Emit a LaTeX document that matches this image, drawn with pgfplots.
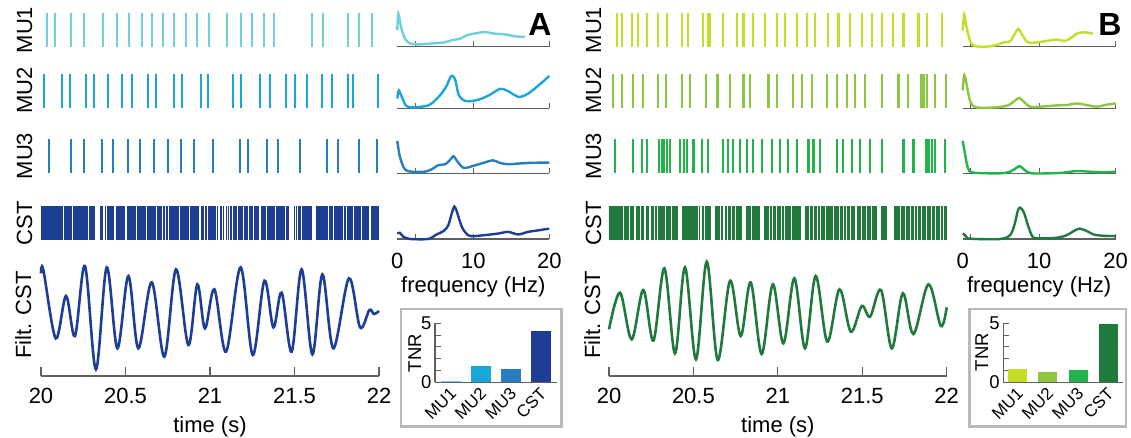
\documentclass[border=0pt]{standalone}
\usepackage{fontspec}
\setmainfont{Liberation Sans}
\setsansfont{Liberation Sans}
\usepackage{pgfplots}
\pgfplotsset{compat=1.18}
\definecolor{A1}{RGB}{112,206,221}
\definecolor{A2}{RGB}{27,166,218}
\definecolor{A3}{RGB}{40,125,190}
\definecolor{A4}{RGB}{30,62,150}
\definecolor{B1}{RGB}{196,221,40}
\definecolor{B2}{RGB}{141,198,63}
\definecolor{B3}{RGB}{34,180,75}
\definecolor{B4}{RGB}{32,122,60}
\definecolor{axg}{RGB}{95,95,95}
\definecolor{boxg}{RGB}{185,185,185}
\newcommand\fs{\fontsize{22}{26}\selectfont}
\newcommand\fsi{\fontsize{18.5}{22}\selectfont}
\newcommand\fsl{\fontsize{17}{20}\selectfont}
\pgfplotsset{
  /pgf/number format/assume math mode=true,
  spk/.style={scale only axis, hide axis, height=34pt, xmin=20, xmax=22, ymin=0, ymax=1, anchor=south west, clip=false},
  spec/.style={scale only axis, height=34pt, xmin=0, xmax=20, ymin=0, ymax=105,
    axis x line=bottom, axis y line=none, ytick=\empty, xticklabels={},
    tick align=inside, major tick length=5.5pt,
    axis line style={-, draw=axg, line width=1.1pt}, tick style={axg, line width=1.1pt},
    anchor=south west, clip=false},
  filt/.style={scale only axis, height=114pt, xmin=20, xmax=22, ymin=-0.18, ymax=3.24,
    axis x line=bottom, axis y line=none,
    axis line style={-, draw=axg, line width=1.2pt}, tick style={axg, line width=1.2pt},
    xtick={20,20.5,21,21.5,22}, xticklabels={},
    tick align=inside, major tick length=9pt,
    anchor=south west, clip=false},
  tnr/.style={scale only axis, height=59pt, ymin=0, ymax=5, anchor=south west,
    axis x line=bottom, axis y line=left,
    axis line style={-, draw=axg, line width=1.1pt}, tick style={axg, line width=1.1pt},
    ybar, bar shift=0pt,
    ytick={0,5}, minor ytick={1,2,3,4}, tick align=inside,
    major tick length=6pt, minor tick length=6pt,
    yticklabel style={font=\fsi}},
}
\begin{document}
\begin{tikzpicture}[x=1pt,y=1pt]
\useasboundingbox (0,0) rectangle (1131,-437);

% ================= PANEL A =================
\begin{axis}[spk, width=338pt, at={(41pt,-47pt)}]
\addplot[ycomb, color=A1, line width=2.2pt] coordinates {
(20.034,1)(20.083,1)(20.176,1)(20.254,1)(20.365,1)(20.451,1)(20.521,1)(20.596,1)(20.655,1)(20.724,1)(20.787,1)(20.858,1)(20.921,1)(20.996,1)(21.099,1)(21.182,1)(21.247,1)(21.321,1)(21.380,1)(21.605,1)(21.670,1)(21.815,1)(21.883,1)(21.960,1)};
\end{axis}
\begin{axis}[spk, width=338pt, at={(41pt,-108pt)}]
\addplot[ycomb, color=A2, line width=2.2pt] coordinates {
(20.018,1)(20.122,1)(20.172,1)(20.264,1)(20.314,1)(20.398,1)(20.479,1)(20.537,1)(20.631,1)(20.680,1)(20.787,1)(20.833,1)(20.945,1)(20.990,1)(21.138,1)(21.182,1)(21.296,1)(21.355,1)(21.450,1)(21.503,1)(21.572,1)(21.664,1)(21.720,1)(21.815,1)(21.844,1)(21.995,1)};
\end{axis}
\begin{axis}[spk, width=338pt, at={(41pt,-173pt)}]
\addplot[ycomb, color=A3, line width=2.2pt] coordinates {
(20.049,1)(20.176,1)(20.254,1)(20.359,1)(20.428,1)(20.513,1)(20.586,1)(20.669,1)(20.750,1)(20.828,1)(20.905,1)(21.020,1)(21.178,1)(21.227,1)(21.336,1)(21.404,1)(21.533,1)(21.691,1)(21.759,1)(21.882,1)(21.990,1)};
\end{axis}
\begin{axis}[spk, width=338pt, at={(41pt,-240pt)}]
\addplot[fill=A4, draw=none] coordinates {(20,0)(22,0)(22,1)(20,1)} -- cycle;
\addplot[ycomb, color=white, line width=1.1pt] coordinates {
(20.132,1)(20.187,1)(20.280,1)(20.373,1)(20.389,1)(20.438,1)(20.503,1)(20.566,1)(20.625,1)(20.684,1)(20.718,1)(20.738,1)(20.753,1)(20.819,1)(20.878,1)(20.941,1)(20.966,1)(20.984,1)(21.036,1)(21.053,1)(21.073,1)(21.089,1)(21.105,1)(21.118,1)(21.132,1)(21.162,1)(21.197,1)(21.227,1)(21.260,1)(21.296,1)(21.335,1)(21.385,1)(21.448,1)(21.505,1)(21.519,1)(21.542,1)(21.700,1)(21.730,1)(21.789,1)(21.809,1)(21.848,1)(21.897,1)(21.947,1)};
\addplot[ycomb, color=white, line width=4.5pt] coordinates {(20.333,1)(21.483,1)(21.615,1)};
\end{axis}
\begin{axis}[filt, width=338pt, at={(41pt,-376pt)}]
\addplot[color=A4, line width=2.6pt, smooth, tension=0.55] coordinates {
(20.000,2.90)(20.014,3.00)(20.087,0.95)(20.148,2.22)(20.201,1.02)(20.260,3.12)(20.325,0.02)(20.389,3.08)(20.452,0.65)(20.517,2.82)(20.576,0.65)(20.655,2.63)(20.730,0.40)(20.799,3.02)(20.872,0.75)(20.925,2.57)(20.970,1.25)(21.026,2.42)(21.095,0.55)(21.181,3.08)(21.253,0.45)(21.322,2.68)(21.375,1.28)(21.424,2.32)(21.483,0.55)(21.542,3.02)(21.606,0.47)(21.665,2.87)(21.730,0.65)(21.822,2.75)(21.888,1.28)(21.943,1.80)(21.970,1.68)(22.000,1.77)};
\end{axis}
% time tick labels A
\foreach \xx/\tt in {41/20,125.5/20.5,210/21,294.5/21.5,379/22}
  \node[anchor=base, font=\fs, inner sep=0pt] at (\xx,-403) {\tt};
\node[anchor=base, font=\fs, inner sep=0pt] at (210,-432) {time (s)};

% spectra A
\begin{axis}[spec, width=152pt, at={(397.3pt,-46.7pt)}, xtick={2.4,10,20}]
\addplot[color=A1, line width=2.4pt, smooth, tension=0.5] coordinates {
(0,52)(0.14,102)(0.5,60)(1.0,25)(1.7,10)(2.8,7)(4.5,10)(6.1,13)(7.2,20)(8.3,25)(9.1,35)(10,40)(11.5,45)(12.9,40)(14.2,38)(15.5,32)(16.8,30)};
\end{axis}
\begin{axis}[spec, width=152pt, at={(397.3pt,-108.3pt)}, xtick={2.4,10,20}]
\addplot[color=A2, line width=2.4pt, smooth, tension=0.5] coordinates {
(0,30)(0.2,55)(0.6,35)(1.2,7)(2.3,3)(4.1,9)(5,25)(5.8,45)(6.5,70)(7.1,100)(7.6,90)(8.1,40)(8.9,23)(10,23)(11.1,30)(12.2,42)(13.5,60)(14.4,55)(15.5,40)(16.1,35)(17.2,45)(18.8,75)(20,100)};
\end{axis}
\begin{axis}[spec, width=152pt, at={(397.3pt,-173.3pt)}, xtick={2.4,10,20}]
\addplot[color=A3, line width=2.4pt, smooth, tension=0.5] coordinates {
(0,100)(0.35,50)(1.0,12)(1.9,5)(3.6,5)(4.5,12)(5.4,25)(6.3,28)(6.9,40)(7.4,53)(7.8,40)(8.7,17)(10,23)(11.3,32)(12.6,40)(13.5,32)(14.6,28)(15.9,30)(17.2,32)(19,33)(20,33)};
\end{axis}
\begin{axis}[spec, width=152pt, at={(397.3pt,-239pt)}, xtick={2.4,10,20}]
\addplot[color=A4, line width=2.4pt, smooth, tension=0.5] coordinates {
(0,17)(0.35,19)(0.8,7)(1.7,0)(4.1,0)(5,12)(6.1,25)(6.7,42)(7.2,82)(7.5,100)(7.8,87)(8.5,37)(9.3,12)(10.1,9)(11.5,12)(13.3,17)(14.6,22)(15.9,14)(17.2,22)(18.6,27)(20,32)};
\end{axis}
\foreach \xx/\tt in {397.3/0,473.3/10,549.3/20}
  \node[anchor=base, font=\fs, inner sep=0pt] at (\xx,-268) {\tt};
\node[anchor=base, font=\fs, inner sep=0pt] at (473.3,-292) {frequency (Hz)};

% TNR inset A
\draw[boxg, line width=2.5pt] (401,-309) rectangle (561.7,-426.7);
\begin{axis}[tnr, width=121.7pt, at={(435pt,-382.3pt)}, xmin=-0.53, xmax=3.52, bar width=20.5pt,
  xtick={0,1,2,3},
  xticklabels={\rotatebox{45}{MU1},\rotatebox{45}{MU2},\rotatebox{45}{MU3},\rotatebox{45}{CST}},
  x tick style={draw=none},
  x tick label style={anchor=north east, xshift=10pt, yshift=-1pt, font=\fsl}]
\addplot[fill=A1, draw=none] coordinates {(0,0.1)};
\addplot[fill=A2, draw=none] coordinates {(1,1.38)};
\addplot[fill=A3, draw=none] coordinates {(2,1.1)};
\addplot[fill=A4, draw=none] coordinates {(3,4.35)};
\end{axis}
\node[rotate=90, anchor=base, font=\fsi] at (421,-353) {TNR};

\node[rotate=90, anchor=base, font=\fs] at (32,-30) {MU1};
\node[rotate=90, anchor=base, font=\fs] at (32,-90.5) {MU2};
\node[rotate=90, anchor=base, font=\fs] at (32,-156) {MU3};
\node[rotate=90, anchor=base, font=\fs] at (32,-223) {CST};
\node[rotate=90, anchor=base, font=\fs] at (31,-315) {Filt. CST};
\node[font=\fontsize{32}{36}\selectfont\bfseries] at (540,-24) {A};

% ================= PANEL B =================
\begin{axis}[spk, width=337.7pt, at={(609pt,-47pt)}]
\addplot[ycomb, color=B1, line width=2.2pt] coordinates {
(20.045,1)(20.075,1)(20.134,1)(20.174,1)(20.223,1)(20.292,1)(20.342,1)(20.430,1)(20.470,1)(20.555,1)(20.588,1)(20.598,1)(20.677,1)(20.756,1)(20.796,1)(20.855,1)(20.924,1)(20.993,1)(21.043,1)(21.112,1)(21.171,1)(21.220,1)(21.299,1)(21.359,1)(21.428,1)(21.497,1)(21.556,1)(21.615,1)(21.684,1)(21.744,1)(21.833,1)(21.882,1)(21.971,1)};
\end{axis}
\begin{axis}[spk, width=337.7pt, at={(609pt,-108pt)}]
\addplot[ycomb, color=B2, line width=2.2pt] coordinates {
(20.026,1)(20.075,1)(20.144,1)(20.203,1)(20.292,1)(20.338,1)(20.430,1)(20.480,1)(20.575,1)(20.642,1)(20.717,1)(20.796,1)(20.835,1)(20.944,1)(20.993,1)(21.092,1)(21.141,1)(21.201,1)(21.289,1)(21.349,1)(21.408,1)(21.457,1)(21.517,1)(21.615,1)(21.714,1)(21.773,1)(21.846,1)(21.862,1)(21.882,1)(21.931,1)(21.994,1)};
\end{axis}
\begin{axis}[spk, width=337.7pt, at={(609pt,-173pt)}]
\addplot[ycomb, color=B3, line width=2.2pt] coordinates {
(20.036,1)(20.144,1)(20.194,1)(20.223,1)(20.296,1)(20.312,1)(20.326,1)(20.342,1)(20.361,1)(20.421,1)(20.444,1)(20.460,1)(20.500,1)(20.549,1)(20.588,1)(20.677,1)(20.707,1)(20.736,1)(20.776,1)(20.816,1)(20.855,1)(20.904,1)(20.964,1)(21.013,1)(21.062,1)(21.112,1)(21.181,1)(21.211,1)(21.250,1)(21.349,1)(21.388,1)(21.438,1)(21.487,1)(21.546,1)(21.615,1)(21.744,1)(21.803,1)(21.876,1)(21.892,1)(21.912,1)(21.931,1)(21.991,1)};
\end{axis}
\begin{axis}[spk, width=337.7pt, at={(609pt,-240pt)}]
\addplot[fill=B4, draw=none] coordinates {(20,0)(22,0)(22,1)(20,1)} -- cycle;
\addplot[ycomb, color=white, line width=1.1pt] coordinates {
(20.085,1)(20.124,1)(20.154,1)(20.184,1)(20.213,1)(20.243,1)(20.267,1)(20.286,1)(20.332,1)(20.371,1)(20.529,1)(20.545,1)(20.563,1)(20.658,1)(20.681,1)(20.703,1)(20.727,1)(20.750,1)(20.845,1)(20.948,1)(20.970,1)(20.993,1)(21.023,1)(21.037,1)(21.082,1)(21.187,1)(21.211,1)(21.234,1)(21.254,1)(21.280,1)(21.329,1)(21.365,1)(21.388,1)(21.408,1)(21.432,1)(21.463,1)(21.497,1)(21.526,1)(21.552,1)(21.728,1)(21.754,1)(21.783,1)(21.809,1)(21.829,1)(21.852,1)(21.882,1)(21.908,1)(21.935,1)(21.961,1)(21.981,1)};
\addplot[ycomb, color=white, line width=4pt] coordinates {(20.421,1)(20.614,1)(20.802,1)(20.904,1)(21.147,1)(21.601,1)};
\addplot[ycomb, color=white, line width=7pt] coordinates {(21.669,1)};
\end{axis}
\begin{axis}[filt, width=337.7pt, at={(609pt,-376pt)}]
\addplot[color=B4, line width=2.6pt, smooth, tension=0.55] coordinates {
(20.000,1.22)(20.065,2.32)(20.134,0.92)(20.203,2.40)(20.263,0.88)(20.328,3.05)(20.391,0.50)(20.450,3.08)(20.515,0.32)(20.579,3.25)(20.644,0.30)(20.717,2.68)(20.780,1.02)(20.839,2.63)(20.904,0.48)(20.970,2.57)(21.033,0.80)(21.098,2.75)(21.161,0.65)(21.224,2.82)(21.293,0.85)(21.365,2.42)(21.432,1.15)(21.497,1.92)(21.546,1.60)(21.611,2.40)(21.675,0.65)(21.740,2.30)(21.803,1.08)(21.892,2.57)(21.965,1.32)(22.000,1.88)};
\end{axis}
\foreach \xx/\tt in {609/20,693.4/20.5,777.85/21,862.3/21.5,946.7/22}
  \node[anchor=base, font=\fs, inner sep=0pt] at (\xx,-403) {\tt};
\node[anchor=base, font=\fs, inner sep=0pt] at (777.85,-432) {time (s)};

% spectra B
\begin{axis}[spec, width=153pt, at={(962.7pt,-46.7pt)}, xtick={1,10,20}]
\addplot[color=B1, line width=2.4pt, smooth, tension=0.5] coordinates {
(0,50)(0.2,100)(0.5,60)(1.0,15)(1.6,2)(3.1,0)(4.4,5)(5.3,13)(6.2,17)(6.8,40)(7.3,55)(7.7,40)(8.4,15)(9.2,12)(11,18)(12.3,22)(13.4,18)(14.2,28)(15.1,42)(16.2,44)(17,40)};
\end{axis}
\begin{axis}[spec, width=153pt, at={(962.7pt,-108.3pt)}, xtick={1,10,20}]
\addplot[color=B2, line width=2.4pt, smooth, tension=0.5] coordinates {
(0,55)(0.2,103)(0.5,75)(1,20)(1.8,3)(4.4,3)(6,10)(6.9,25)(7.4,32)(8,20)(8.8,5)(10.1,5)(12.3,9)(13.6,10)(14.9,15)(16.2,10)(17.5,5)(18.8,11)(20,15)};
\end{axis}
\begin{axis}[spec, width=153pt, at={(962.7pt,-173.3pt)}, xtick={1,10,20}]
\addplot[color=B3, line width=2.4pt, smooth, tension=0.5] coordinates {
(0,100)(0.3,60)(0.7,15)(1.4,2)(4.9,0)(6.2,5)(7.1,18)(7.5,22)(8.1,10)(9,0)(11.4,0)(13.2,2)(14.9,7)(16.6,5)(18.4,3)(20,5)};
\end{axis}
\begin{axis}[spec, width=153pt, at={(962.7pt,-239pt)}, xtick={1,10,20}]
\addplot[color=B4, line width=2.4pt, smooth, tension=0.5] coordinates {
(0,17)(0.3,12)(0.7,2)(1.8,0)(4.9,0)(6.2,12)(6.8,47)(7.2,87)(7.5,97)(8,82)(8.6,37)(9.2,5)(10.1,2)(12.3,4)(13.6,12)(14.7,27)(15.3,32)(16.2,25)(17.1,14)(18.4,10)(20,9)};
\end{axis}
\foreach \xx/\tt in {962.7/0,1039.2/10,1115.7/20}
  \node[anchor=base, font=\fs, inner sep=0pt] at (\xx,-268) {\tt};
\node[anchor=base, font=\fs, inner sep=0pt] at (1039.2,-292) {frequency (Hz)};

% TNR inset B
\draw[boxg, line width=2.5pt] (969.3,-309) rectangle (1126,-426.7);
\begin{axis}[tnr, width=119.7pt, at={(1003.3pt,-382.3pt)}, xmin=-0.48, xmax=3.49, bar width=19pt,
  xtick={0,1,2,3},
  xticklabels={\rotatebox{45}{MU1},\rotatebox{45}{MU2},\rotatebox{45}{MU3},\rotatebox{45}{CST}},
  x tick style={draw=none},
  x tick label style={anchor=north east, xshift=10pt, yshift=-1pt, font=\fsl}]
\addplot[fill=B1, draw=none] coordinates {(0,1.1)};
\addplot[fill=B2, draw=none] coordinates {(1,0.9)};
\addplot[fill=B3, draw=none] coordinates {(2,1.04)};
\addplot[fill=B4, draw=none] coordinates {(3,4.9)};
\end{axis}
\node[rotate=90, anchor=base, font=\fsi] at (988,-352) {TNR};

\node[rotate=90, anchor=base, font=\fs] at (601,-30) {MU1};
\node[rotate=90, anchor=base, font=\fs] at (601,-90.5) {MU2};
\node[rotate=90, anchor=base, font=\fs] at (601,-156) {MU3};
\node[rotate=90, anchor=base, font=\fs] at (601,-223) {CST};
\node[rotate=90, anchor=base, font=\fs] at (600,-315) {Filt. CST};
\node[font=\fontsize{32}{36}\selectfont\bfseries] at (1110,-24) {B};
\end{tikzpicture}
\end{document}
